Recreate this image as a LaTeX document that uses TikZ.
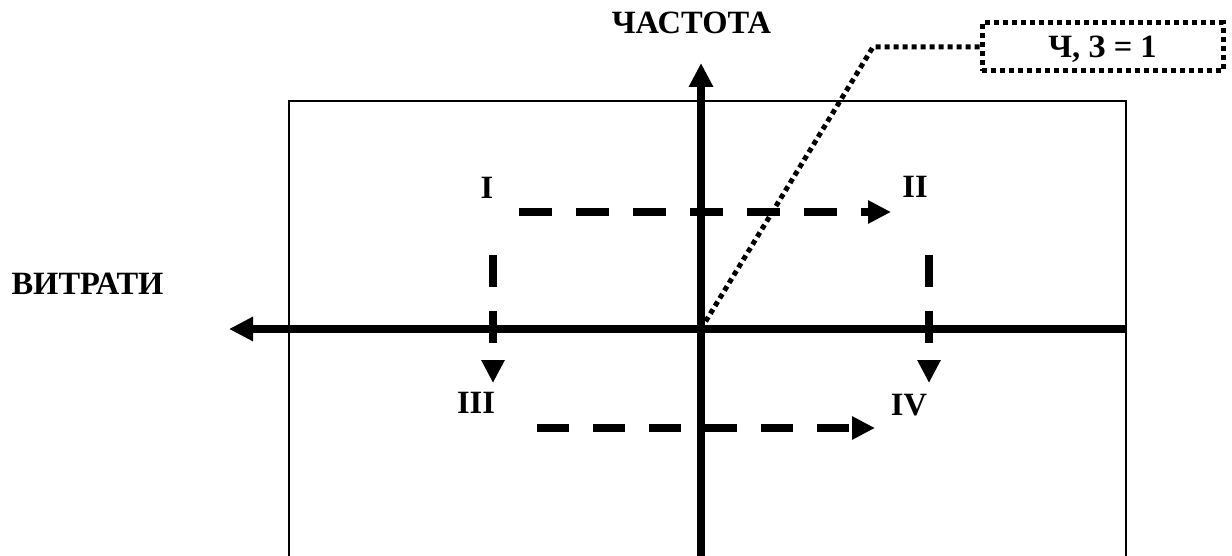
\documentclass[tikz,border=0pt]{standalone}
\usepackage{fontspec}
\setmainfont{Liberation Serif}
\usetikzlibrary{arrows.meta}
\begin{document}
\begin{tikzpicture}[x=1pt,y=1pt,
  lbl/.style={font=\bfseries\fontsize{32.5}{38}\selectfont, inner sep=0pt, anchor=base},
  axisline/.style={line width=8pt},
  axtip/.style={-{Triangle[length=24pt,width=23pt]}},
  dashline/.style={line width=8pt, dash pattern=on 33pt off 24pt, -{Triangle[length=23pt,width=22pt]}},
  dotline/.style={line width=5pt, dash pattern=on 5pt off 4pt},
  frame/.style={line width=1.5pt}]
\useasboundingbox (0,0) rectangle (1232,555);
% frame
\coordinate (f1) at (289,-3);
\coordinate (f2) at (289,454);
\coordinate (f3) at (1126,454);
\coordinate (f4) at (1126,-3);
\draw[frame] (f1) -- (f2) -- (f3) -- (f4);
% axes
\coordinate (vb) at (701,-3);
\coordinate (vt) at (701,492);
\coordinate (hr) at (1127,226);
\coordinate (hl) at (229,226);
\draw[axisline,axtip] (vb) -- (vt);
\draw[axisline,axtip] (hr) -- (hl);
\coordinate (O) at (701,226);
% axis labels
\node[lbl] (freq) at (691.5,521) {ЧАСТОТА};
\node[lbl] (cost) at (87.5,260) {ВИТРАТИ};
% quadrant labels
\node[lbl] (q1) at (487,356) {I};
\node[lbl] (q2) at (915,357) {II};
\node[lbl] (q3) at (476,142) {III};
\node[lbl] (q4) at (909,140) {IV};
% dashed arrows
\coordinate (t1) at (519,343);
\coordinate (t2) at (891,343);
\coordinate (l1) at (493,300);
\coordinate (l2) at (493,172);
\coordinate (r1) at (929,300);
\coordinate (r2) at (929,172);
\coordinate (b1) at (537,127);
\coordinate (b2) at (875,127);
\draw[dashline] (t1) -- (t2);
\draw[dashline, dash pattern=on 32pt off 24pt] (l1) -- (l2);
\draw[dashline, dash pattern=on 32pt off 24pt] (r1) -- (r2);
\draw[dashline, dash pattern=on 32pt off 24pt] (b1) -- (b2);
% callout
\node[lbl, anchor=center, draw, dotline, minimum width=241pt, minimum height=48pt,
      text height=22pt, text depth=0pt] (box) at (1102.5,508) {Ч, З = 1};
\coordinate (bend) at (873,508);
\draw[dotline] (O) -- (bend) -- (box.west);
\end{tikzpicture}
\end{document}
